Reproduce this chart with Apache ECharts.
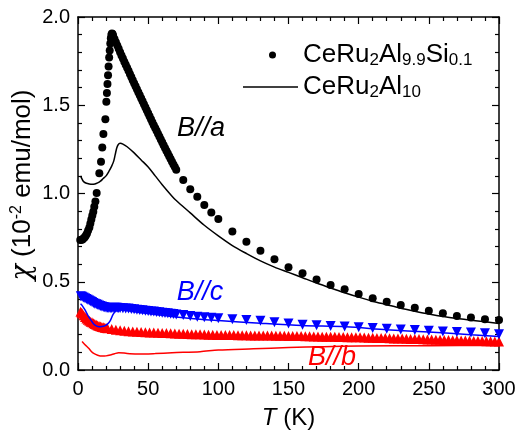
<!DOCTYPE html>
<html>
<head>
<meta charset="utf-8">
<script src="https://cdn.jsdelivr.net/npm/echarts@6.0.0/dist/echarts.min.js"></script>
<style>
  html, body { margin: 0; padding: 0; background: #fff; }
  #chart { width: 522px; height: 431px; }
</style>
</head>
<body>
<div id="chart"></div>
<script>
// T (K), chi (10^-2 emu/mol)
const siA = [
  [1.6, 0.737], [2.5, 0.738], [3.2, 0.74], [4, 0.746], [4.8, 0.752], [5.6, 0.762], [6.4, 0.774],
  [7.2, 0.79], [8.1, 0.808], [8.8, 0.83], [9.5, 0.853], [10.2, 0.875], [10.9, 0.897], [11.6, 0.925],
  [12.4, 0.954], [13.3, 1.003], [15.2, 1.115], [16.4, 1.18], [17.3, 1.26], [18.1, 1.337], [19.5, 1.42],
  [20.2, 1.52], [20.6, 1.57], [21, 1.62], [21.4, 1.67], [21.8, 1.72], [22.2, 1.77], [22.6, 1.81],
  [23, 1.85], [23.4, 1.88], [23.8, 1.9], [24.2, 1.907], [24.6, 1.903], [25, 1.895], [26, 1.875],
  [27, 1.857], [28, 1.838], [29, 1.82], [30, 1.8], [31, 1.782], [32, 1.765], [33, 1.747], [34, 1.73],
  [35, 1.712], [36, 1.695], [37, 1.677], [38, 1.66], [39, 1.642], [40, 1.625], [41, 1.607], [42, 1.59],
  [43, 1.573], [44, 1.556], [45, 1.539], [46, 1.522], [47, 1.505], [48, 1.488], [49, 1.471],
  [50, 1.455], [51, 1.438], [52, 1.42], [53, 1.404], [54, 1.387], [55, 1.371], [56, 1.355],
  [57, 1.339], [58, 1.323], [59, 1.306], [60, 1.29], [61, 1.274], [62, 1.258], [63, 1.242],
  [64, 1.227], [65, 1.211], [66, 1.196], [67, 1.18], [68, 1.165], [69, 1.15], [70, 1.135],
  [75, 1.076], [80, 1.024], [85, 0.982], [90, 0.935], [95, 0.893], [100, 0.855], [110, 0.784],
  [120, 0.727], [130, 0.675], [140, 0.627], [150, 0.582], [160, 0.548], [170, 0.513], [180, 0.482],
  [190, 0.457], [200, 0.431], [210, 0.406], [220, 0.387], [230, 0.368], [240, 0.353], [250, 0.336],
  [260, 0.321], [270, 0.306], [280, 0.298], [290, 0.287], [300, 0.283]
];
const pureA = [
  [1.8, 1.1], [3, 1.08], [4, 1.067], [6, 1.058], [8, 1.054], [10, 1.052], [12, 1.054], [14, 1.06],
  [16, 1.07], [18, 1.085], [20, 1.1], [22, 1.125], [24, 1.155], [25.5, 1.185], [26.5, 1.22],
  [27.5, 1.255], [28.5, 1.275], [30, 1.284], [32, 1.28], [35, 1.265], [40, 1.23], [45, 1.19],
  [50, 1.15], [55, 1.1], [60, 1.05], [67, 0.985], [70, 0.96], [80, 0.89], [90, 0.82], [100, 0.76],
  [110, 0.705], [120, 0.66], [130, 0.618], [140, 0.583], [150, 0.553], [160, 0.523], [170, 0.493],
  [180, 0.465], [190, 0.438], [200, 0.413], [210, 0.39], [220, 0.37], [230, 0.35], [240, 0.333],
  [250, 0.317], [260, 0.303], [270, 0.292], [280, 0.282], [290, 0.273], [300, 0.264]
];
const siC = [
  [2, 0.418], [3, 0.415], [4, 0.411], [5, 0.407], [6, 0.402], [7, 0.398], [8, 0.394], [9, 0.389],
  [10, 0.385], [11, 0.38], [12, 0.376], [13, 0.372], [14, 0.369], [15, 0.366], [16, 0.363],
  [17, 0.36], [18, 0.357], [19, 0.355], [20, 0.353], [21, 0.352], [22, 0.351], [23, 0.351],
  [24, 0.351], [25, 0.351], [26, 0.352], [27, 0.352], [28, 0.352], [29, 0.351], [30, 0.351],
  [32, 0.35], [34, 0.349], [36, 0.348], [38, 0.346], [40, 0.344], [42, 0.342], [44, 0.34],
  [46, 0.338], [48, 0.336], [50, 0.334], [52, 0.332], [54, 0.331], [56, 0.329], [58, 0.327],
  [60, 0.325], [62, 0.323], [64, 0.321], [66, 0.319], [68, 0.317], [70, 0.315], [75, 0.311],
  [80, 0.306], [85, 0.302], [90, 0.299], [95, 0.296], [100, 0.293], [110, 0.288], [120, 0.283],
  [130, 0.279], [140, 0.271], [150, 0.264], [160, 0.257], [170, 0.253], [180, 0.249], [190, 0.246],
  [200, 0.242], [210, 0.238], [220, 0.234], [230, 0.23], [240, 0.226], [250, 0.222], [260, 0.218],
  [270, 0.215], [280, 0.212], [290, 0.208], [300, 0.203]
];
const pureC = [
  [1.8, 0.375], [3, 0.365], [5, 0.34], [7, 0.31], [9, 0.285], [11, 0.262], [13, 0.25], [15, 0.245],
  [17, 0.246], [19, 0.25], [21, 0.26], [23, 0.28], [25, 0.315], [27, 0.335], [30, 0.34], [40, 0.33],
  [50, 0.32], [60, 0.31], [70, 0.3], [87, 0.287], [100, 0.28], [130, 0.265], [160, 0.252],
  [191, 0.245], [220, 0.228], [250, 0.215], [280, 0.2], [300, 0.19]
];
const siB = [
  [1.8, 0.33], [2.5, 0.325], [3, 0.32], [4, 0.31], [5, 0.3], [6, 0.292], [7, 0.285], [8, 0.279],
  [9, 0.274], [10, 0.27], [11, 0.265], [12, 0.26], [13, 0.256], [14, 0.252], [15, 0.249],
  [16, 0.246], [17, 0.244], [18, 0.242], [19, 0.24], [20, 0.238], [21, 0.236], [24, 0.232],
  [27, 0.228], [30, 0.225], [33, 0.222], [36, 0.22], [39, 0.218], [42, 0.217], [45, 0.216],
  [48, 0.214], [51, 0.213], [54, 0.212], [57, 0.211], [60, 0.21], [63, 0.209], [66, 0.208],
  [69, 0.207], [72, 0.206], [75, 0.205], [78, 0.204], [81, 0.203], [84, 0.202], [87, 0.202],
  [90, 0.201], [93, 0.2], [96, 0.2], [99, 0.199], [102, 0.199], [105, 0.198], [108, 0.198],
  [111, 0.198], [114, 0.197], [117, 0.197], [120, 0.197], [123, 0.196], [126, 0.196], [129, 0.196],
  [132, 0.195], [135, 0.195], [138, 0.195], [141, 0.194], [144, 0.194], [147, 0.194], [150, 0.193],
  [153, 0.193], [156, 0.192], [159, 0.192], [162, 0.191], [165, 0.191], [168, 0.19], [171, 0.19],
  [174, 0.189], [177, 0.189], [180, 0.188], [183, 0.188], [186, 0.187], [189, 0.187], [192, 0.186],
  [195, 0.186], [198, 0.185], [201, 0.185], [204, 0.184], [207, 0.183], [210, 0.183], [213, 0.182],
  [216, 0.181], [219, 0.181], [222, 0.18], [225, 0.179], [228, 0.179], [231, 0.178], [234, 0.177],
  [237, 0.176], [240, 0.176], [243, 0.175], [246, 0.174], [249, 0.173], [252, 0.173], [255, 0.172],
  [258, 0.171], [261, 0.17], [264, 0.17], [267, 0.169], [270, 0.168], [273, 0.167], [276, 0.167],
  [279, 0.166], [282, 0.165], [285, 0.165], [288, 0.164], [291, 0.163], [294, 0.163], [297, 0.162],
  [300, 0.162]
];
const pureB = [
  [2.9, 0.161], [5, 0.143], [7.6, 0.123], [9.5, 0.105], [11.2, 0.094], [14, 0.084], [17.1, 0.079],
  [20, 0.08], [23, 0.085], [26, 0.092], [29, 0.098], [35, 0.094], [43, 0.09], [55, 0.093],
  [67, 0.098], [87, 0.104], [100, 0.113], [125, 0.12], [150, 0.127], [175, 0.132], [200, 0.136],
  [250, 0.138], [300, 0.139]
];

const legendSi = 'CeRu2Al9.9Si0.1';
const legendPure = 'CeRu2Al10';
const font = 'Liberation Sans, Arial, sans-serif';
const yTitle = '{g|χ} (10{s|-2} emu/mol)';
const yTitleRich = {
  g: { fontSize: 27, fontStyle: 'italic', fontFamily: 'DejaVu Serif, serif' },
  s: { fontSize: 16, padding: [0, 0, 12, 0] }
};
const downTriangle = 'path://M0,0L10,0L5,9Z';

const chart = echarts.init(document.getElementById('chart'), null, { renderer: 'canvas' });

// fresh objects per axis; onZero off so the mirror axes stay on top / right
function frame(extra) {
  return Object.assign({
    axisLine: { show: true, onZero: false, lineStyle: { color: '#000', width: 1.5 } },
    axisTick: { show: true, inside: true, length: 7, lineStyle: { color: '#000', width: 1.2 } },
    minorTick: { show: true, splitNumber: 5, length: 4, lineStyle: { color: '#000', width: 1.2 } },
    splitLine: { show: false }
  }, extra);
}

function legendRich() {
  return {
    g: { width: 22, fontSize: 26 },
    n: { fontSize: 26, color: '#000', fontFamily: font },
    s: { fontSize: 17, color: '#000', fontFamily: font, padding: [10, 0, 0, 0] }
  };
}

function annotation(text, x, y, color) {
  return {
    type: 'text', x: x, y: y,
    style: { text: text, fill: color, font: 'italic 27px ' + font, align: 'center', verticalAlign: 'middle' }
  };
}

// drop: set of features to leave out if this ECharts build trips over them
function buildOption(drop) {
  const smooth = drop.has('smooth') ? false : 0.3;
  const legends = [{
    data: [legendSi],
    left: 269, top: 42, padding: 0,
    icon: 'circle', itemWidth: 7, itemHeight: 7,
    selectedMode: false,
    formatter: () => '{g| }{n|CeRu}{s|2}{n|Al}{s|9.9}{n|Si}{s|0.1}',
    textStyle: { rich: legendRich() }
  }];
  const pureLegend = {
    data: [legendPure],
    left: 243, top: 74, padding: 0,
    itemWidth: 55,
    selectedMode: false,
    formatter: () => '{n|CeRu}{s|2}{n|Al}{s|10}',
    textStyle: { rich: legendRich() }
  };
  if (!drop.has('legend2')) {
    pureLegend.icon = 'rect';
    pureLegend.itemHeight = 1.5;
  } else {
    pureLegend.itemHeight = 14;
  }
  legends.push(pureLegend);

  const graphic = [
    annotation('B//a', 201, 128, '#000'),
    annotation('B//c', 200, 292, '#0000ff'),
    annotation('B//b', 332, 357, '#ff0000')
  ];
  if (!drop.has('label')) {
    graphic.push({
      type: 'text', x: 23, y: 185, rotation: Math.PI / 2,
      style: {
        text: yTitle, fill: '#000', font: '26px ' + font,
        align: 'center', verticalAlign: 'middle', rich: yTitleRich
      }
    });
  }
  if (drop.has('name')) {
    graphic.push({
      type: 'text', x: 289, y: 416,
      style: {
        text: '{i|T} (K)', fill: '#000', font: '24px ' + font,
        align: 'center', verticalAlign: 'middle',
        rich: { i: { fontSize: 24, fontStyle: 'italic' } }
      }
    });
  }

  const xMain = frame({
    type: 'value', min: 0, max: 300, interval: 50,
    axisLabel: { color: '#000', fontSize: 20, margin: 9, fontFamily: font }
  });
  if (!drop.has('name')) {
    Object.assign(xMain, {
      name: '{i|T} (K)',
      nameLocation: 'middle', nameGap: 36,
      nameTextStyle: {
        rich: { i: { fontSize: 24, fontStyle: 'italic' } },
        fontSize: 24, color: '#000'
      }
    });
  }
  const yMain = frame({
    type: 'value', min: 0, max: 2, interval: 0.5,
    axisLabel: {
      color: '#000', fontSize: 20, margin: 8, fontFamily: font,
      formatter: v => Number(v).toFixed(1)
    }
  });
  if (drop.has('label')) {
    Object.assign(yMain, {
      name: yTitle, nameLocation: 'middle', nameGap: 42, nameRotate: 90,
      nameTextStyle: { fontSize: 26, color: '#000', rich: yTitleRich }
    });
  }

  return {
    animation: false,
    backgroundColor: '#fff',
    textStyle: { fontFamily: font },
    grid: { left: 78, right: 23, top: 17, bottom: 61, outerBoundsMode: 'none' },
    legend: legends,
    xAxis: [
      xMain,
      frame({ type: 'value', min: 0, max: 300, interval: 50, position: 'top', axisLabel: { show: false } })
    ],
    yAxis: [
      yMain,
      frame({ type: 'value', min: 0, max: 2, interval: 0.5, position: 'right', axisLabel: { show: false } })
    ],
    series: [
      {
        name: 'red line', type: 'line', data: pureB, smooth: smooth, symbol: 'none',
        lineStyle: { color: '#ff0000', width: 1.5 }
      },
      {
        name: 'red up', type: 'scatter', data: siB, symbol: 'triangle', symbolSize: 10,
        itemStyle: { color: '#ff0000', opacity: 1 }
      },
      {
        name: 'blue line', type: 'line', data: pureC, smooth: smooth, symbol: 'none',
        lineStyle: { color: '#0000ff', width: 1.5 }
      },
      {
        name: 'blue down', type: 'scatter', data: siC, symbol: downTriangle, symbolSize: 10,
        itemStyle: { color: '#0000ff', opacity: 1 }
      },
      {
        name: legendPure, type: 'line', data: pureA, smooth: smooth, symbol: 'none',
        lineStyle: { color: '#000', width: 1.5 }, itemStyle: { color: '#000' }
      },
      {
        name: legendSi, type: 'scatter', data: siA, symbol: 'circle', symbolSize: 8,
        itemStyle: { color: '#000', opacity: 1 }
      }
    ],
    graphic: graphic
  };
}

// the frame has 4 axis lines + 104 major/minor ticks
function frameDrawn() {
  const n = chart.getZr().storage.getDisplayList(true)
    .filter(el => el.type === 'line' && !el.invisible && !el.ignore).length;
  return n >= 100;
}

const attempts = [[], ['label'], ['name'], ['legend2'], ['smooth'], ['label', 'name'],
  ['label', 'name', 'legend2', 'smooth']];
for (const drop of attempts) {
  try {
    chart.setOption(buildOption(new Set(drop)), true);
  } catch (e) {
    continue;
  }
  if (frameDrawn()) break;
}
</script>
</body>
</html>
